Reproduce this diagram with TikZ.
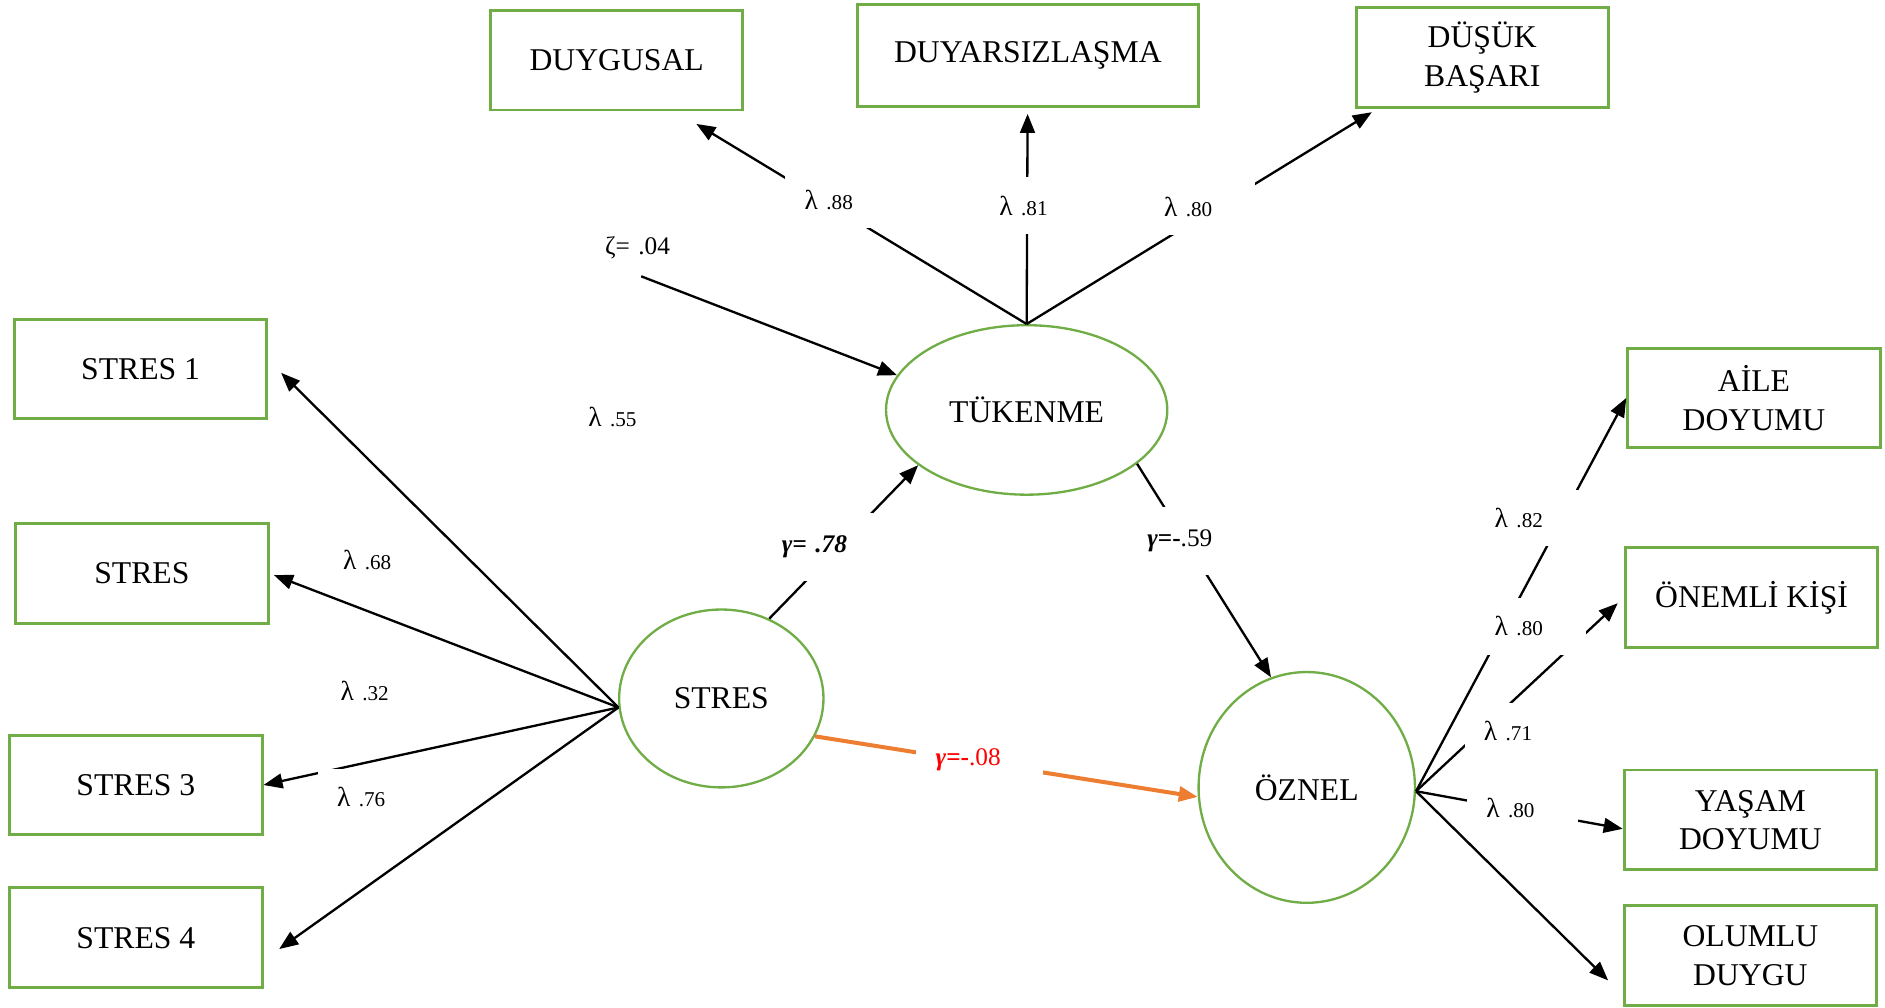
\documentclass[tikz,border=0pt]{standalone}
\usepackage{fontspec}
\setmainfont{Liberation Serif}
\usetikzlibrary{arrows.meta,shapes.geometric}
\definecolor{boxgreen}{RGB}{112,173,71}
\definecolor{pathorange}{RGB}{237,125,49}
\newcommand{\lam}[1]{{\fontsize{13}{13}\selectfont λ} {\fontsize{10}{12}\selectfont #1}}
\tikzset{
	obs/.style={draw=boxgreen, line width=1.4pt, minimum width=4.2cm, minimum height=1.66cm, inner sep=0pt, align=center, font=\fontsize{15}{18.2}\selectfont},
	lat/.style={ellipse, draw=boxgreen, line width=1.1pt, inner sep=0pt, font=\fontsize{15}{18}\selectfont},
	load/.style={line width=1.1pt, -{Triangle[length=9pt,width=7pt]}},
	coef/.style={fill=white, anchor=west, inner xsep=0.32cm, inner ysep=0pt, minimum height=0.94cm, text width=1.2cm, align=left, font=\fontsize{12}{14}\selectfont}
}

\begin{document}
\begin{tikzpicture}[x=0.02cm, y=-0.02cm]
		%%%%% START %%%%%
		\useasboundingbox (0,0) rectangle (1568,838);
		
		% indicators
		\node[obs] (duygusal) at (513,50) {DUYGUSAL};
		\node[obs, minimum width=5.68cm, minimum height=1.7cm] (duyar) at (855,46) {DUYARSIZLAŞMA};
		\node[obs] (dusuk) at (1233,48) {DÜŞÜK\\BAŞARI};
		
		\node[obs] (stres1) at (117,307) {STRES 1};
		\node[obs] (stres2) at (118,477) {STRES};
		\node[obs] (stres3) at (113,653) {STRES 3};
		\node[obs] (stres4) at (113,780) {STRES 4};
		
		\node[obs] (aile) at (1459,331) {AİLE\\DOYUMU};
		\node[obs] (onemli) at (1457,497) {ÖNEMLİ KİŞİ};
		\node[obs] (yasam) at (1456,682) {YAŞAM\\DOYUMU};
		\node[obs] (olumlu) at (1456,795) {OLUMLU\\DUYGU};
		
		% latent variables
		\node[lat, minimum width=4.68cm, minimum height=2.82cm] (tuk) at (854,341) {TÜKENME};
		\node[lat, minimum width=3.4cm, minimum height=2.96cm] (stres) at (600,581) {STRES};
		\node[lat, minimum width=3.6cm, minimum height=3.84cm] (oznel) at (1087,655) {ÖZNEL};
		
		\node[coef] (zeta) at (487,206) {ζ= .04};
		
		% loadings
		\draw[load, shorten >=0.4cm] (tuk.north) -- (duygusal.-41);
		\draw[load, shorten >=0.1cm] (tuk.north) -- (duyar);
		\draw[load, shorten >=0.1cm] (tuk.north) -- (dusuk.206);
		\draw[load] (zeta.south) -- (tuk.165);
		
		\draw[load, shorten >=0.3cm] (stres.185) -- (stres1.4);
		\draw[load, shorten >=0.08cm] (stres.185) -- (stres2.east);
		\draw[load] (stres.185) -- (stres3.east);
		\draw[load, shorten >=0.32cm] (stres.185) -- (stres4.-10);
		
		\draw[load] (oznel.-2) -- (aile.west);
		\draw[load, shorten >=0.14cm] (oznel.-2) -- (onemli.west);
		\draw[load] (oznel.-2) -- (yasam.184);
		\draw[load, shorten >=0.34cm] (oznel.-2) -- (olumlu.197);
		
		% structural paths
		\draw[load] (stres.59) -- (tuk.207);
		\draw[load] (tuk.334) -- (oznel.108);
		\draw[load, line width=1.9pt, color=pathorange] (stres.-22) -- (oznel.185);
		
		% coefficients
		\node[coef] (l88) at (653,166) {\lam{.88}};
		\node[coef] (l81) at (815,171) {\lam{.81}};
		\node[coef] (l80a) at (952,172) {\lam{.80}};
		
		\node[coef] (l55) at (473,347) {\lam{.55}};
		\node[coef] (l68) at (269,466) {\lam{.68}};
		\node[coef] (l32) at (267,575) {\lam{.32}};
		\node[coef] (l76) at (264,663) {\lam{.76}};
		
		\node[coef] (l82) at (1227,431) {\lam{.82}};
		\node[coef] (l80b) at (1227,521) {\lam{.80}};
		\node[coef] (l71) at (1218,608) {\lam{.71}};
		\node[coef] (l80c) at (1220,672) {\lam{.80}};
		
		\node[coef, minimum height=1.14cm] (g78) at (634,455) {\textbf{\textit{γ= .78}}};
		\node[coef, minimum height=1.14cm] (g59) at (938,450) {\textbf{\textit{γ}=-}.59};
		\node[coef, text width=1.46cm, text=red] (g08) at (762,632) {\textbf{\textit{γ}=-}.08};
		
		%%%%% END %%%%%
\end{tikzpicture}
\end{document}
